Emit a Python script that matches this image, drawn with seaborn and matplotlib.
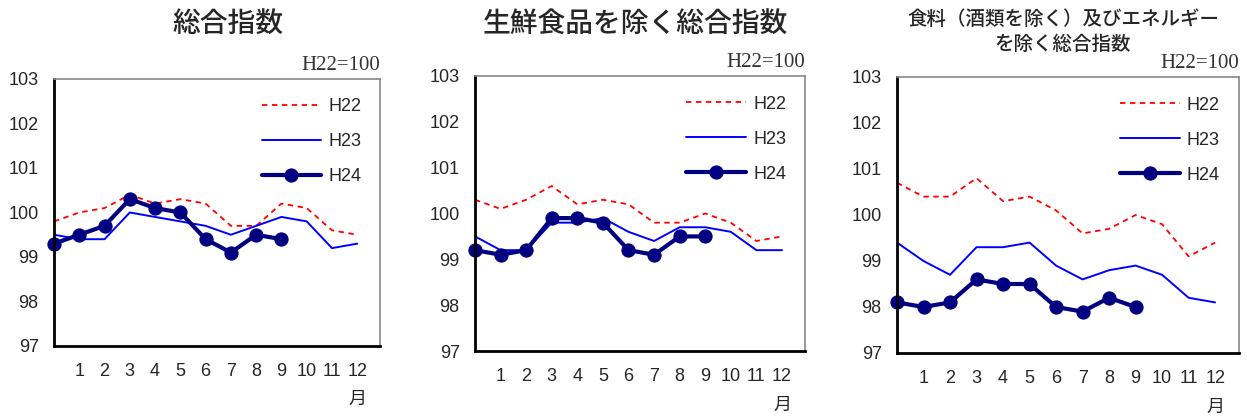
import pandas as pd
import matplotlib.pyplot as plt
import seaborn as sns

# months: first point is the previous December (x=0), then 1..12
months = list(range(13))
tick_labels = [str(m) for m in range(1, 13)]

# 総合指数
sogo_h22 = [99.8, 100.0, 100.1, 100.4, 100.2, 100.3, 100.2, 99.7, 99.7, 100.2, 100.1, 99.6, 99.5]
sogo_h23 = [99.5, 99.4, 99.4, 100.0, 99.9, 99.8, 99.7, 99.5, 99.7, 99.9, 99.8, 99.2, 99.3]
sogo_h24 = [99.3, 99.5, 99.7, 100.3, 100.1, 100.0, 99.4, 99.1, 99.5, 99.4]

# 生鮮食品を除く総合指数
core_h22 = [100.3, 100.1, 100.3, 100.6, 100.2, 100.3, 100.2, 99.8, 99.8, 100.0, 99.8, 99.4, 99.5]
core_h23 = [99.5, 99.2, 99.2, 99.8, 99.8, 99.9, 99.6, 99.4, 99.7, 99.7, 99.6, 99.2, 99.2]
core_h24 = [99.2, 99.1, 99.2, 99.9, 99.9, 99.8, 99.2, 99.1, 99.5, 99.5]

# 食料（酒類を除く）及びエネルギーを除く総合指数
cc_h22 = [100.7, 100.4, 100.4, 100.8, 100.3, 100.4, 100.1, 99.6, 99.7, 100.0, 99.8, 99.1, 99.4]
cc_h23 = [99.4, 99.0, 98.7, 99.3, 99.3, 99.4, 98.9, 98.6, 98.8, 98.9, 98.7, 98.2, 98.1]
cc_h24 = [98.1, 98.0, 98.1, 98.6, 98.5, 98.5, 98.0, 97.9, 98.2, 98.0]

titles = ["総合指数", "生鮮食品を除く総合指数", "食料（酒類を除く）及びエネルギー\nを除く総合指数"]
panels = [(sogo_h22, sogo_h23, sogo_h24),
          (core_h22, core_h23, core_h24),
          (cc_h22, cc_h23, cc_h24)]

sns.set_style("white")
plt.rcParams['font.family'] = ['Liberation Sans', 'Noto Sans CJK JP', 'DejaVu Sans']

fig = plt.figure(figsize=(12.47, 4.16), dpi=100)
W, H = 1247, 416
boxes = [(54, 79, 380, 346), (475, 76, 805, 351), (897, 77, 1239, 353)]
title_pos = [(228, 24), (635, 24), (1063, 32)]

for i, (box, title, (h22, h23, h24)) in enumerate(zip(boxes, titles, panels)):
    l, t, r, b = box
    ax = fig.add_axes([l / W, 1 - b / H, (r - l) / W, (b - t) / H])

    sns.lineplot(x=months, y=h22, ax=ax, color='red', linestyle=(0, (3, 2.5)), linewidth=1.3, label='H22')
    sns.lineplot(x=months, y=h23, ax=ax, color='#0000ff', linewidth=1.4, label='H23')
    sns.lineplot(x=months[:len(h24)], y=h24, ax=ax, color='#000080', linewidth=3,
                 marker='o', markersize=9.5, markeredgecolor='#000080', label='H24', clip_on=False)

    ax.set_xlim(0, 12.9)
    ax.set_ylim(97, 103)
    ax.set_xticks(range(13))
    ax.set_xticklabels([''] + tick_labels)
    ax.set_yticks(range(97, 104))
    ax.tick_params(axis='both', direction='in', length=6, width=1.5, labelsize=13)
    ax.tick_params(axis='x', pad=12)
    ax.tick_params(axis='y', pad=11)
    for s in ['left', 'bottom']:
        ax.spines[s].set_color('black')
        ax.spines[s].set_linewidth(2)
    for s in ['top', 'right']:
        ax.spines[s].set_color('#888888')
        ax.spines[s].set_linewidth(1.2)
    ax.set_xlabel('')
    ax.set_ylabel('')

    ax.legend(loc='upper right', frameon=False, fontsize=13, handlelength=3.3,
              labelspacing=1.0, handletextpad=0.4, borderaxespad=0.0,
              bbox_to_anchor=(0.965, 0.955))

    ax.text(12, 96.02, '月', ha='center', va='top', fontsize=13, family=['Noto Sans CJK JP'],
            transform=ax.transData)
    ax.text(1.0, 1.015, 'H22=100', ha='right', va='bottom', fontsize=15,
            family=['Liberation Serif'], transform=ax.transAxes, color='#333333')

    tx, ty = title_pos[i]
    if i < 2:
        fig.text(tx / W, 1 - ty / H, title, ha='center', va='center', fontsize=20,
                 family=['Noto Sans CJK JP'], fontweight='medium')
    else:
        fig.text(tx / W, 1 - ty / H, title, ha='center', va='center', fontsize=14,
                 family=['Noto Sans CJK JP'], fontweight='medium', linespacing=1.45)

fig.savefig('out.png', dpi=100)
